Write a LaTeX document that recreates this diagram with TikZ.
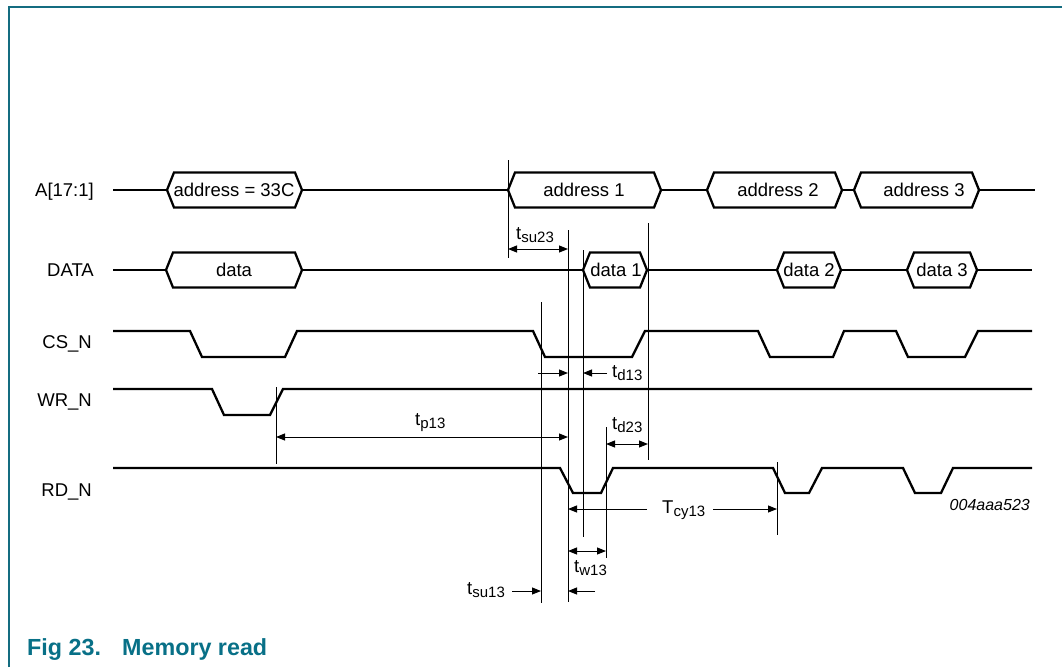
\documentclass[tikz,border=0pt]{standalone}
\usepackage{fontspec}
\setmainfont{Liberation Sans}
\usetikzlibrary{arrows.meta}
\definecolor{framec}{RGB}{20,108,128}
\definecolor{capc}{RGB}{8,112,135}
\newcommand\sbs[1]{\raisebox{-3.5pt}{\fontsize{15}{15}\selectfont #1}}
\newcommand\bushex[3]{% xl xr yc
  \draw[sig] (#1,#3) -- ({#1+7},{#3-17.5}) -- ({#2-7},{#3-17.5}) -- (#2,#3) -- ({#2-7},{#3+17.5}) -- ({#1+7},{#3+17.5}) -- cycle;}
\begin{document}
\begin{tikzpicture}[x=1pt,y=-1pt,
  sig/.style={line width=2.3pt},
  mark line/.style={line width=1pt},
  dimboth/.style={line width=1pt,{Triangle[length=9pt,width=7pt]}-{Triangle[length=9pt,width=7pt]}},
  dimone/.style={line width=1pt,-{Triangle[length=9pt,width=7pt]}},
  lbl/.style={inner sep=0pt,font=\fontsize{18.5}{20}\selectfont},
  tag/.style={inner sep=0pt,font=\fontsize{16}{18}\selectfont\itshape},
  caption/.style={inner sep=0pt,text=capc,font=\fontsize{23.3}{25}\selectfont\bfseries}]
\useasboundingbox (0,0) rectangle (1062,667);
% frame
\draw[framec,line width=1.6pt] (9,667) -- (9,7) -- (1062,7);

% signal names
\node[lbl,anchor=base east] (nA)  at (94,196.5) {A[17:1]};
\node[lbl,anchor=base east] (nD)  at (94,276.5) {DATA};
\node[lbl,anchor=base east] (nCS) at (92,348.5) {CS\_N};
\node[lbl,anchor=base east] (nWR) at (92,406.5) {WR\_N};
\node[lbl,anchor=base east] (nRD) at (92,496.5) {RD\_N};

% A bus
\draw[sig] (113,190) -- (167,190);
\bushex{167}{302}{190}
\draw[sig] (302,190) -- (508,190);
\bushex{508}{661}{190}
\draw[sig] (661,190) -- (707,190);
\bushex{707}{842}{190}
\draw[sig] (842,190) -- (854,190);
\bushex{854}{979}{190}
\draw[sig] (979,190) -- (1035,190);
\node[lbl,anchor=base] (a0) at (234,196.5) {address = 33C};
\node[lbl,anchor=base] (a1) at (584,196.5) {address 1};
\node[lbl,anchor=base] (a2) at (778,196.5) {address 2};
\node[lbl,anchor=base] (a3) at (924,196.5) {address 3};

% DATA bus
\draw[sig] (113,270) -- (166,270);
\bushex{166}{302}{270}
\draw[sig] (302,270) -- (583,270);
\bushex{583}{647}{270}
\draw[sig] (647,270) -- (777,270);
\bushex{777}{841}{270}
\draw[sig] (841,270) -- (907,270);
\bushex{907}{977}{270}
\draw[sig] (977,270) -- (1032,270);
\node[lbl,anchor=base] (d0) at (234,276.5) {data};
\node[lbl,anchor=base] (d1) at (616,276.5) {data 1};
\node[lbl,anchor=base] (d2) at (809,276.5) {data 2};
\node[lbl,anchor=base] (d3) at (942,276.5) {data 3};

% CS_N
\draw[sig] (113,331) -- (190,331) -- (202,357) -- (285,357) -- (297,331) -- (533,331) -- (545,357) -- (632,357) -- (645,331) -- (758,331) -- (770,357) -- (833,357) -- (844,331) -- (896,331) -- (908,357) -- (965,357) -- (978,331) -- (1032,331);
% WR_N
\draw[sig] (113,389) -- (212,389) -- (224,415) -- (270,415) -- (283,389) -- (1032,389);
% RD_N
\draw[sig] (113,468) -- (560,468) -- (573,493) -- (601,493) -- (613,468) -- (773,468) -- (785,493) -- (809,493) -- (822,468) -- (903,468) -- (915,493) -- (941,493) -- (953,468) -- (1032,468);

% reference lines
\coordinate (m1t) at (508,160); \coordinate (m1b) at (508,258);
\coordinate (m2t) at (568,230); \coordinate (m2b) at (568,602);
\coordinate (m3t) at (583,250); \coordinate (m3b) at (583,537);
\coordinate (m4t) at (648,223); \coordinate (m4b) at (648,460);
\coordinate (m5t) at (541,302); \coordinate (m5b) at (541,603);
\coordinate (m6t) at (606,427); \coordinate (m6b) at (606,558);
\coordinate (m7t) at (276,387); \coordinate (m7b) at (276,464);
\coordinate (m8t) at (777,462); \coordinate (m8b) at (777,535);
\foreach \m in {1,...,8} \draw[mark line] (m\m t) -- (m\m b);

% timing arrows
\draw[dimboth] (m1t |- 0,249) -- (m2t |- 0,249);
\node[lbl,anchor=base west] (tsu23) at (516,239) {t\sbs{su23}};

\coordinate (td13a) at (538,373); \coordinate (td13b) at (607,373);
\draw[dimone] (td13a) -- (m2t |- td13a);
\draw[dimone] (td13b) -- (m3t |- td13b);
\node[lbl,anchor=base west] (td13) at (612,377) {t\sbs{d13}};

\draw[dimboth] (m7t |- 0,437) -- (m2t |- 0,437);
\node[lbl,anchor=base west] (tp13) at (415,425) {t\sbs{p13}};

\draw[dimboth] (m6t |- 0,444) -- (m4t |- 0,444);
\node[lbl,anchor=base west] (td23) at (612,429) {t\sbs{d23}};

\coordinate (tcya) at (647,509); \coordinate (tcyb) at (713,509);
\draw[dimone] (tcya) -- (m2t |- tcya);
\draw[dimone] (tcyb) -- (m8t |- tcyb);
\node[lbl,anchor=base west] (tcy13) at (662,513) {T\sbs{cy13}};

\draw[dimboth] (m2t |- 0,551) -- (m6t |- 0,551);
\node[lbl,anchor=base west] (tw13) at (574,572) {t\sbs{w13}};

\coordinate (tsua) at (512,591); \coordinate (tsub) at (595,591);
\draw[dimone] (tsua) -- (m5t |- tsua);
\draw[dimone] (tsub) -- (m2t |- tsub);
\node[lbl,anchor=base west] (tsu13) at (467,594) {t\sbs{su13}};

\node[tag,anchor=base east] (fid) at (1030,510) {004aaa523};

% caption
\node[caption,anchor=base west] (cap1) at (27,655) {Fig 23.};
\node[caption,anchor=base west] (cap2) at (122,655) {Memory read};
\end{tikzpicture}
\end{document}
